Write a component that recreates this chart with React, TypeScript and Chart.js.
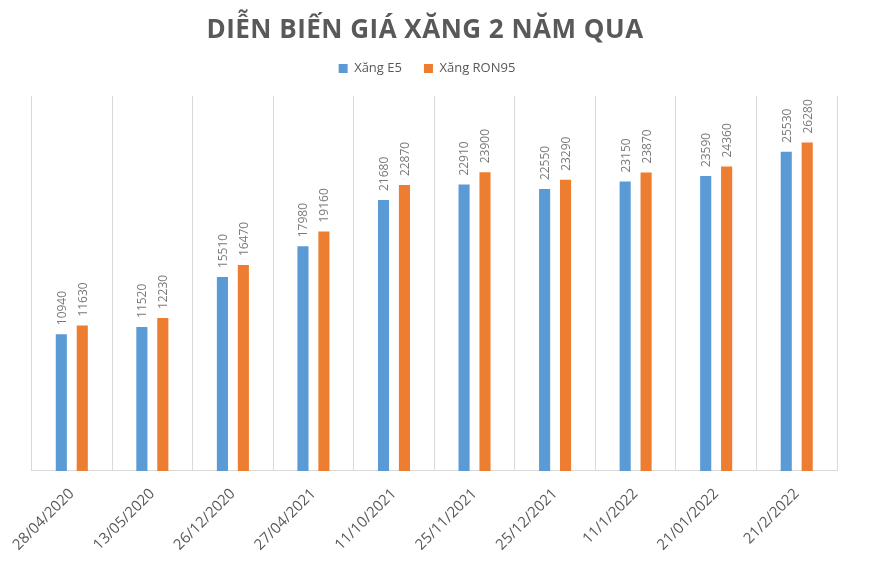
import React, { useEffect, useRef } from "react";
import { Chart, registerables } from "chart.js";

Chart.register(...registerables);

const TITLE = "DIỄN BIẾN GIÁ XĂNG 2 NĂM QUA";
const categories = [
  "28/04/2020",
  "13/05/2020",
  "26/12/2020",
  "27/04/2021",
  "11/10/2021",
  "25/11/2021",
  "25/12/2021",
  "11/1/2022",
  "21/01/2022",
  "21/2/2022",
];
const e5Values = [10940, 11520, 15510, 17980, 21680, 22910, 22550, 23150, 23590, 25530];
const ron95Values = [11630, 12230, 16470, 19160, 22870, 23900, 23290, 23870, 24360, 26280];
const seriesNames = ["Xăng E5", "Xăng RON95"];

const FONT = "'Open Sans', 'Liberation Sans', sans-serif";

const titlePlugin = {
  id: "customTitle",
  afterDraw(chart: any) {
    const ctx = chart.ctx;
    ctx.save();
    ctx.font = `bold 26px ${FONT}`;
    (ctx as any).letterSpacing = "0.5px";
    ctx.fillStyle = "#595959";
    ctx.textAlign = "center";
    ctx.textBaseline = "alphabetic";
    ctx.fillText(TITLE, 425, 38);
    ctx.restore();
  },
};

const legendMarginPlugin = {
  id: "legendMargin",
  beforeInit(chart: any) {
    const legend = chart.legend;
    if (!legend) return;
    const origFit = legend.fit;
    legend.fit = function () {
      origFit.bind(legend)();
      this.height += 11;
    };
  },
};

const valueLabelPlugin = {
  id: "valueLabels",
  afterDatasetsDraw(chart: any) {
    const ctx = chart.ctx;
    ctx.save();
    ctx.font = `12px ${FONT}`;
    ctx.fillStyle = "#7a7a7a";
    ctx.textAlign = "left";
    ctx.textBaseline = "middle";
    chart.data.datasets.forEach((ds: any, i: number) => {
      const meta = chart.getDatasetMeta(i);
      meta.data.forEach((bar: any, j: number) => {
        ctx.save();
        ctx.translate(bar.x + 1, bar.y - 9);
        ctx.rotate(-Math.PI / 2);
        ctx.fillText(String(ds.data[j]), 0, 0);
        ctx.restore();
      });
    });
    ctx.restore();
  },
};

export default function App() {
  const canvasRef = useRef<HTMLCanvasElement | null>(null);

  useEffect(() => {
    if (!canvasRef.current) return;
    const chart = new Chart(canvasRef.current, {
      type: "bar",
      data: {
        labels: categories,
        datasets: [
          {
            label: seriesNames[0],
            data: e5Values,
            backgroundColor: "#5B9BD5",
            categoryPercentage: 0.52,
            barPercentage: 0.53,
          },
          {
            label: seriesNames[1],
            data: ron95Values,
            backgroundColor: "#ED7D31",
            categoryPercentage: 0.52,
            barPercentage: 0.53,
          },
        ],
      },
      options: {
        animation: false,
        responsive: true,
        maintainAspectRatio: false,
        layout: { padding: { top: 40, left: 0, right: 35, bottom: 0 } },
        plugins: {
          title: { display: false },
          tooltip: { enabled: false },
          legend: {
            display: true,
            position: "top",
            labels: {
              boxWidth: 9,
              boxHeight: 9,
              padding: 22,
              color: "#595959",
              font: { family: FONT, size: 13 },
            },
          },
        },
        scales: {
          x: {
            grid: { display: true, color: "#D9D9D9", drawTicks: false, offset: true },
            border: { display: true, color: "#D9D9D9" },
            ticks: {
              color: "#595959",
              font: { family: FONT, size: 15 },
              minRotation: 45,
              maxRotation: 45,
              padding: 14,
              autoSkip: false,
            },
          },
          y: {
            display: true,
            min: 0,
            max: 30000,
            grid: { display: false },
            border: { display: false },
            ticks: { display: false },
            afterFit(s: any) {
              s.width = 30;
            },
          },
          y2: {
            position: "right",
            display: true,
            grid: { display: false },
            border: { display: false },
            ticks: { display: false },
            afterFit(s: any) {
              s.width = 17;
            },
          },
        },
      },
      plugins: [legendMarginPlugin, titlePlugin, valueLabelPlugin],
    });
    return () => chart.destroy();
  }, []);

  return (
    <div style={{ position: "fixed", left: 0, top: 0, width: 889, height: 568, background: "#fff" }}>
      <canvas ref={canvasRef} />
    </div>
  );
}
